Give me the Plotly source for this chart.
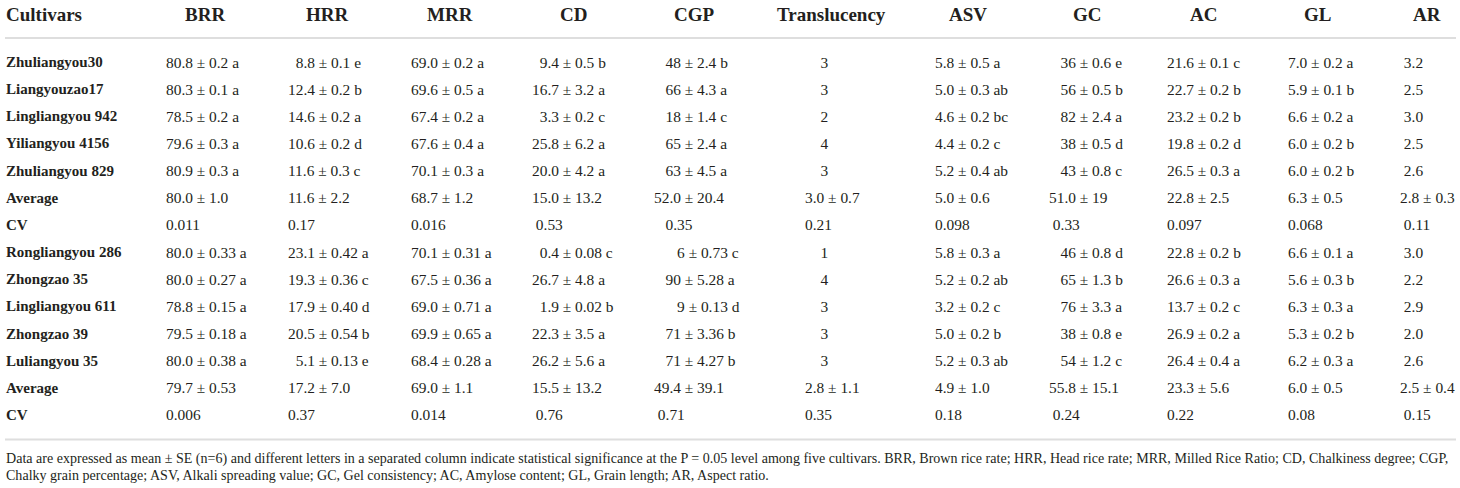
import plotly.graph_objects as go

F = "\u2007"   # figure space (digit width)
N = "\u00a0"   # no-break space
FN = F + N
FF = F + F
FFF = F + F + F

headers = ["Cultivars", "BRR", "HRR", "MRR", "CD", "CGP", "Translucency",
           "ASV", "GC", "AC", "GL", "AR"]

cultivars = ["Zhuliangyou30", "Liangyouzao17", "Lingliangyou 942", "Yiliangyou 4156",
             "Zhuliangyou 829", "Average", "CV", "Rongliangyou 286", "Zhongzao 35",
             "Lingliangyou 611", "Zhongzao 39", "Luliangyou 35", "Average", "CV"]

brr = ["80.8 ± 0.2 a", "80.3 ± 0.1 a", "78.5 ± 0.2 a", "79.6 ± 0.3 a", "80.9 ± 0.3 a",
       "80.0 ± 1.0", "0.011",
       "80.0 ± 0.33 a", "80.0 ± 0.27 a", "78.8 ± 0.15 a", "79.5 ± 0.18 a", "80.0 ± 0.38 a",
       "79.7 ± 0.53", "0.006"]
hrr = [F + "8.8 ± 0.1 e", "12.4 ± 0.2 b", "14.6 ± 0.2 a", "10.6 ± 0.2 d", "11.6 ± 0.3 c",
       "11.6 ± 2.2", "0.17",
       "23.1 ± 0.42 a", "19.3 ± 0.36 c", "17.9 ± 0.40 d", "20.5 ± 0.54 b", F + "5.1 ± 0.13 e",
       "17.2 ± 7.0", "0.37"]
mrr = ["69.0 ± 0.2 a", "69.6 ± 0.5 a", "67.4 ± 0.2 a", "67.6 ± 0.4 a", "70.1 ± 0.3 a",
       "68.7 ± 1.2", "0.016",
       "70.1 ± 0.31 a", "67.5 ± 0.36 a", "69.0 ± 0.71 a", "69.9 ± 0.65 a", "68.4 ± 0.28 a",
       "69.0 ± 1.1", "0.014"]
cd = [F + "9.4 ± 0.5 b", "16.7 ± 3.2 a", F + "3.3 ± 0.2 c", "25.8 ± 6.2 a", "20.0 ± 4.2 a",
      "15.0 ± 13.2", N + "0.53",
      F + "0.4 ± 0.08 c", "26.7 ± 4.8 a", F + "1.9 ± 0.02 b", "22.3 ± 3.5 a", "26.2 ± 5.6 a",
      "15.5 ± 13.2", N + "0.76"]
cgp = [FN + "48 ± 2.4 b", FN + "66 ± 4.3 a", FN + "18 ± 1.4 c", FN + "65 ± 2.4 a", FN + "63 ± 4.5 a",
       "52.0 ± 20.4", FN + "0.35",
       FFF + "6 ± 0.73 c", FN + "90 ± 5.28 a", FFF + "9 ± 0.13 d", FN + "71 ± 3.36 b", FN + "71 ± 4.27 b",
       "49.4 ± 39.1", N + "0.71"]
translucency = [FF + "3", FF + "3", FF + "2", FF + "4", FF + "3", "3.0 ± 0.7", "0.21",
                FF + "1", FF + "4", FF + "3", FF + "3", FF + "3", "2.8 ± 1.1", "0.35"]
asv = ["5.8 ± 0.5 a", "5.0 ± 0.3 ab", "4.6 ± 0.2 bc", "4.4 ± 0.2 c", "5.2 ± 0.4 ab",
       "5.0 ± 0.6", "0.098",
       "5.8 ± 0.3 a", "5.2 ± 0.2 ab", "3.2 ± 0.2 c", "5.0 ± 0.2 b", "5.2 ± 0.3 ab",
       "4.9 ± 1.0", "0.18"]
gc = [FN + "36 ± 0.6 e", FN + "56 ± 0.5 b", FN + "82 ± 2.4 a", FN + "38 ± 0.5 d", FN + "43 ± 0.8 c",
      "51.0 ± 19", N + "0.33",
      FN + "46 ± 0.8 d", FN + "65 ± 1.3 b", FN + "76 ± 3.3 a", FN + "38 ± 0.8 e", FN + "54 ± 1.2 c",
      "55.8 ± 15.1", N + "0.24"]
ac = ["21.6 ± 0.1 c", "22.7 ± 0.2 b", "23.2 ± 0.2 b", "19.8 ± 0.2 d", "26.5 ± 0.3 a",
      "22.8 ± 2.5", "0.097",
      "22.8 ± 0.2 b", "26.6 ± 0.3 a", "13.7 ± 0.2 c", "26.9 ± 0.2 a", "26.4 ± 0.4 a",
      "23.3 ± 5.6", "0.22"]
gl = ["7.0 ± 0.2 a", "5.9 ± 0.1 b", "6.6 ± 0.2 a", "6.0 ± 0.2 b", "6.0 ± 0.2 b",
      "6.3 ± 0.5", "0.068",
      "6.6 ± 0.1 a", "5.6 ± 0.3 b", "6.3 ± 0.3 a", "5.3 ± 0.2 b", "6.2 ± 0.3 a",
      "6.0 ± 0.5", "0.08"]
ar = [N + "3.2", N + "2.5", N + "3.0", N + "2.5", N + "2.6", "2.8 ± 0.3", N + "0.11",
      N + "3.0", N + "2.2", N + "2.9", N + "2.0", N + "2.6", "2.5 ± 0.4", N + "0.15"]

footnote = [
    "Data are expressed as mean ± SE (n=6) and different letters in a separated column indicate "
    "statistical significance at the P = 0.05 level among five cultivars. BRR, Brown rice rate; "
    "HRR, Head rice rate; MRR, Milled Rice Ratio; CD, Chalkiness degree; CGP,",
    "Chalky grain percentage; ASV, Alkali spreading value; GC, Gel consistency; AC, Amylose content; "
    "GL, Grain length; AR, Aspect ratio.",
]

columns = [brr, hrr, mrr, cd, cgp, translucency, asv, gc, ac, gl, ar]

# ---- layout constants (pixels) ----
W, H = 1460, 488
FONT = "Liberation Serif"
COLOR = "#231f20"
name_x = 6
col_left = [166, 288, 411, 532, 654, 805, 935, 1049, 1167, 1288, 1400]
head_center = [205, 327, 450, 573, 694, 831, 968, 1087, 1203, 1317, 1427]
head_y = 14
row_y0, row_pitch = 62, 27.15
rule_top, rule_bottom = 38, 439.5
foot_y = [458, 475]

ann = []


def add(text, x, y, size, xanchor="left", bold=False):
    ann.append(dict(
        text=("<b>%s</b>" % text) if bold else text,
        x=x, y=y, xref="x", yref="y", xanchor=xanchor, yanchor="middle",
        showarrow=False, borderpad=0, borderwidth=0,
        font=dict(family=FONT, size=size, color=COLOR),
    ))


# header
add(headers[0], name_x, head_y, 19, bold=True)
for h, cx in zip(headers[1:], head_center):
    add(h, cx, head_y, 19, xanchor="center", bold=True)

# body
for i, name in enumerate(cultivars):
    y = row_y0 + i * row_pitch
    add(name, name_x, y, 15, bold=True)
    for col, lx in zip(columns, col_left):
        add(col[i], lx, y, 15.4)

# footnote
for t, fy in zip(footnote, foot_y):
    add(t, name_x, fy, 14.05)

shapes = [
    dict(type="line", xref="x", yref="y", x0=5, x1=1456, y0=rule_top, y1=rule_top,
         line=dict(color="#dedede", width=2)),
    dict(type="line", xref="x", yref="y", x0=5, x1=1456, y0=rule_bottom, y1=rule_bottom,
         line=dict(color="#dedede", width=2)),
]

fig = go.Figure()
fig.add_trace(go.Scatter(x=[0, W], y=[0, H], mode="markers",
                         marker=dict(opacity=0), hoverinfo="skip", showlegend=False))
fig.update_layout(
    width=W, height=H, margin=dict(l=0, r=0, t=0, b=0),
    paper_bgcolor="white", plot_bgcolor="white",
    xaxis=dict(range=[0, W], visible=False, fixedrange=True),
    yaxis=dict(range=[H, 0], visible=False, fixedrange=True),
    annotations=ann, shapes=shapes, showlegend=False,
)
fig.write_html("out.html", config={"displayModeBar": False},
               post_script="document.body.style.margin='0';document.body.style.overflow='hidden';")
